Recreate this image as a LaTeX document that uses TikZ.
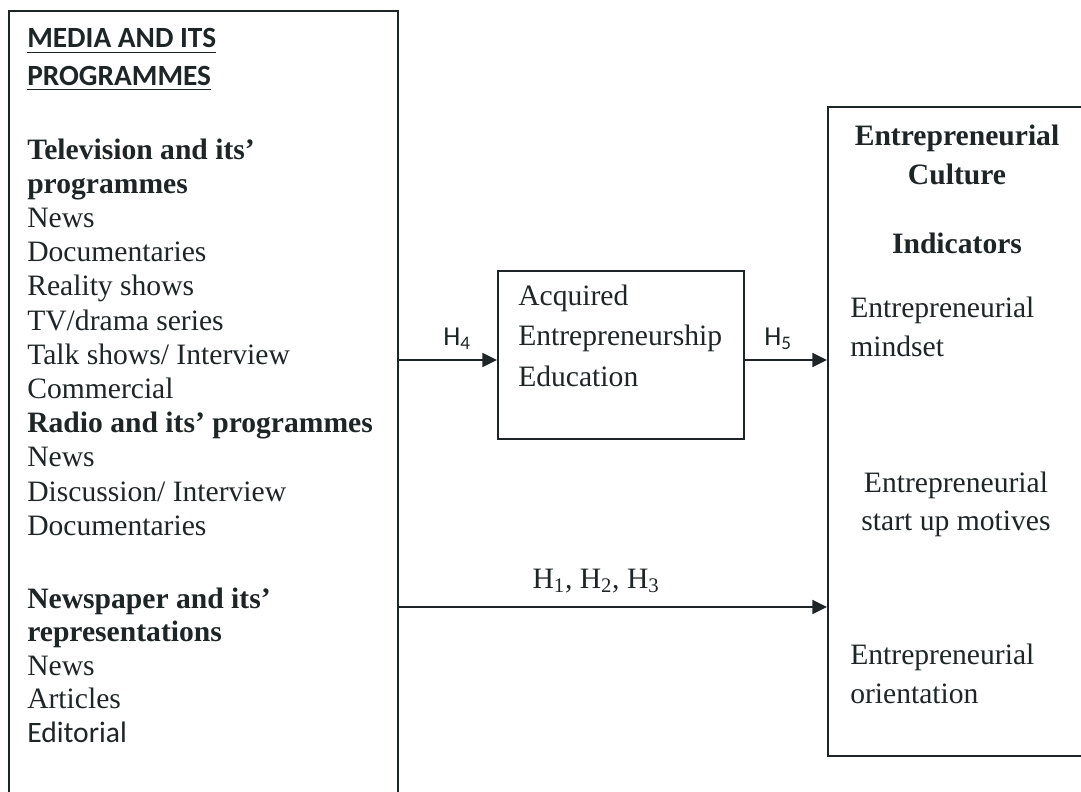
\documentclass[tikz,border=0pt]{standalone}
\usepackage{fontspec}
\setmainfont{Liberation Serif}
\setsansfont{Carlito}
\usetikzlibrary{arrows.meta}
\definecolor{ink}{HTML}{1F2526}

\tikzset{
  box/.style={draw=ink, line width=1.3pt, anchor=north west, inner sep=0pt},
  item/.style={anchor=base west, inner sep=0pt, text=ink, font=\fontsize{22.2}{25}\selectfont},
  citem/.style={item, anchor=base},
  head/.style={item, font=\sffamily\bfseries\fontsize{22}{25}\selectfont},
  hlabel/.style={anchor=base, inner sep=0pt, text=ink, font=\sffamily\fontsize{20.5}{24}\selectfont},
  link/.style={draw=ink, line width=1.2pt, -{Triangle[length=11pt,width=10.5pt]}}
}

\begin{document}
\begin{tikzpicture}[x=0.75pt, y=-0.75pt]
  \clip (0,0) rectangle (1081,792);
  % boxes
  \node[box, minimum width=292pt, minimum height=600pt] (media) at (8,10) {};
  \node[box, minimum width=184.5pt, minimum height=126pt] (edu) at (497,270) {};
  \node[box, minimum width=200pt, minimum height=486.75pt] (culture) at (827,106) {};

  % media and its programmes
  \node[head] (mh1) at (27,48) {MEDIA AND ITS};
  \node[head] (mh2) at (27,85) {PROGRAMMES};
  \draw[ink, line width=1.2pt] ([yshift=-3.5pt]mh1.base west) -- ([yshift=-3.5pt]mh1.base east);
  \draw[ink, line width=1.2pt] ([yshift=-3.5pt]mh2.base west) -- ([yshift=-3.5pt]mh2.base east);
  \foreach \t [count=\i from 0] in {{\bfseries Television and its’}, {\bfseries programmes}, News, Documentaries, Reality shows, TV/drama series, Talk shows/ Interview, Commercial, {\bfseries Radio and its’ programmes}, News, Discussion/ Interview, Documentaries}
    \node[item] (tv\i) at (27,159+34.2*\i) {\t};
  \foreach \t [count=\i from 0] in {{\bfseries Newspaper and its’}, {\bfseries representations}, News, Articles, {\sffamily Editorial}}
    \node[item] (np\i) at (27,608+33.5*\i) {\t};

  % acquired education
  \foreach \t [count=\i from 0] in {Acquired, Entrepreneurship, Education}
    \node[item] (ae\i) at (518,305+40.5*\i) {\t};

  % entrepreneurial culture
  \node[citem, font=\bfseries\fontsize{22.2}{25}\selectfont] (ec1) at (957,145) {Entrepreneurial};
  \node[citem, font=\bfseries\fontsize{22.2}{25}\selectfont] (ec2) at (957,184) {Culture};
  \node[citem, font=\bfseries\fontsize{22.2}{25}\selectfont] (ind) at (957,253) {Indicators};
  \node[item] (ms1) at (850,317) {Entrepreneurial};
  \node[item] (ms2) at (850,356) {mindset};
  \node[citem] (sm1) at (956,492) {Entrepreneurial};
  \node[citem] (sm2) at (956,530) {start up motives};
  \node[item] (or1) at (850,664) {Entrepreneurial};
  \node[item] (or2) at (850,703) {orientation};

  % arrows
  \coordinate (upper) at (0,360);
  \coordinate (lower) at (0,607);
  \draw[link] (media.east |- upper) -- (edu.west |- upper);
  \draw[link] (edu.east |- upper) -- (culture.west |- upper);
  \draw[link] (media.east |- lower) -- (culture.west |- lower);
  \node[hlabel] (h4) at (457,345) {H\textsubscript{4}};
  \node[hlabel] (h5) at (778,345) {H\textsubscript{5}};
  \node[citem] (h123) at (596,588) {H\textsubscript{1}, H\textsubscript{2}, H\textsubscript{3}};
\end{tikzpicture}
\end{document}
